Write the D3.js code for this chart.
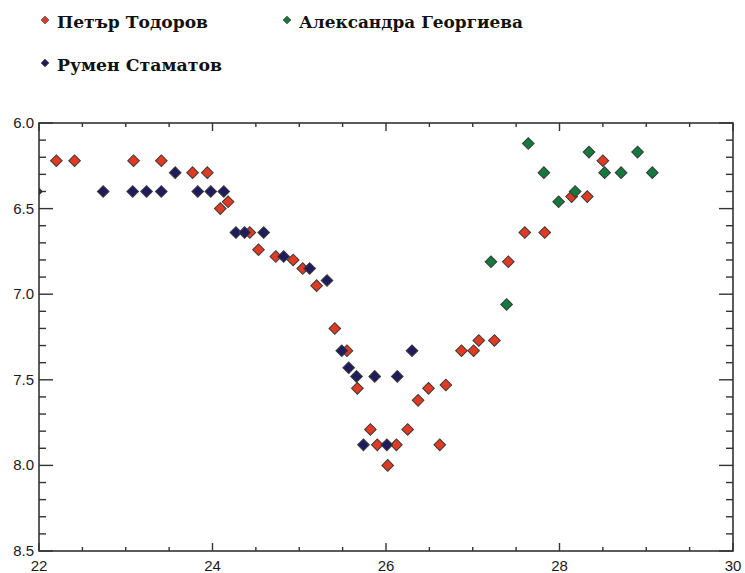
<!DOCTYPE html>
<html><head><meta charset="utf-8">
<script src="https://cdn.jsdelivr.net/npm/d3@7"></script>
<style>body{margin:0;background:#fff}</style>
</head><body>
<svg id="chart" width="745" height="573"></svg>
<script>
const seriesNames = ["Петър Тодоров", "Румен Стаматов", "Александра Георгиева"];
const seriesColors = ["#e03a22", "#1f1c5e", "#137a3e"];

const petarX = [22.20,22.41,23.09,23.41,23.77,23.94,24.09,24.18,24.43,24.53,24.73,24.93,25.04,25.20,25.41,25.55,25.67,25.82,25.90,26.02,26.12,26.25,26.37,26.49,26.62,26.69,26.87,27.01,27.07,27.25,27.41,27.60,27.83,28.14,28.32,28.50];
const petarY = [6.22,6.22,6.22,6.22,6.29,6.29,6.50,6.46,6.64,6.74,6.78,6.80,6.85,6.95,7.20,7.33,7.55,7.79,7.88,8.00,7.88,7.79,7.62,7.55,7.88,7.53,7.33,7.33,7.27,7.27,6.81,6.64,6.64,6.43,6.43,6.22];

const rumenX = [21.97,22.74,23.08,23.24,23.41,23.57,23.83,23.98,24.13,24.27,24.37,24.59,24.82,25.12,25.32,25.49,25.57,25.66,25.87,25.74,26.01,26.13,26.30];
const rumenY = [6.40,6.40,6.40,6.40,6.40,6.29,6.40,6.40,6.40,6.64,6.64,6.64,6.78,6.85,6.92,7.33,7.43,7.48,7.48,7.88,7.88,7.48,7.33];

const aleksX = [27.21,27.39,27.64,27.82,27.99,28.18,28.34,28.52,28.71,28.90,29.07];
const aleksY = [6.81,7.06,6.12,6.29,6.46,6.40,6.17,6.29,6.29,6.17,6.29];

const xTicks = [22,24,26,28,30];
const yTicks = [6.0,6.5,7.0,7.5,8.0,8.5];

const svg = d3.select("#chart");
const L = 39, T = 123, R = 733, B = 551;
const x = d3.scaleLinear().domain([22,30]).range([L,R]);
const y = d3.scaleLinear().domain([6.0,8.5]).range([T,B]);
const axisColor = "#333";

svg.append("defs").append("clipPath").attr("id","clip")
  .append("rect").attr("x",L).attr("y",T).attr("width",R-L).attr("height",B-T);

const diamond = d3.symbol().type(d3.symbolSquare).size(68);
const smallDiamond = d3.symbol().type(d3.symbolSquare).size(30);

const series = [
  {name: seriesNames[0], color: seriesColors[0], xs: petarX, ys: petarY},
  {name: seriesNames[1], color: seriesColors[1], xs: rumenX, ys: rumenY},
  {name: seriesNames[2], color: seriesColors[2], xs: aleksX, ys: aleksY}
];

const plot = svg.append("g").attr("clip-path","url(#clip)");
series.forEach(s => {
  const pts = s.xs.map((v,i) => [v, s.ys[i]]);
  plot.selectAll(null).data(pts).enter().append("path")
    .attr("d", diamond)
    .attr("transform", d => `translate(${x(d[0])},${y(d[1])}) rotate(45)`)
    .attr("fill", s.color).attr("stroke", "#3a3a3a").attr("stroke-width", 1);
});

// frame
svg.append("rect").attr("x",L).attr("y",T).attr("width",R-L).attr("height",B-T)
  .attr("fill","none").attr("stroke",axisColor).attr("stroke-width",1.6);

// ticks
const ax = svg.append("g").attr("stroke",axisColor).attr("stroke-width",1.4);
const xMinor = d3.range(22, 30.001, 0.5);
xMinor.forEach(v => {
  const major = Math.abs(v/2 - Math.round(v/2)) < 1e-6;
  const len = major ? 8 : 4;
  ax.append("line").attr("x1",x(v)).attr("x2",x(v)).attr("y1",B).attr("y2",B-len);
  ax.append("line").attr("x1",x(v)).attr("x2",x(v)).attr("y1",T).attr("y2",T+len);
});
const yMinor = d3.range(0, 26).map(i => 6 + i*0.1);
yMinor.forEach((v,i) => {
  const major = i % 5 === 0;
  const len = major ? 14 : 7;
  ax.append("line").attr("x1",L).attr("x2",L+len).attr("y1",y(v)).attr("y2",y(v));
  ax.append("line").attr("x1",R).attr("x2",R-len).attr("y1",y(v)).attr("y2",y(v));
});

// tick labels
const lab = svg.append("g").attr("font-family","Liberation Sans, Arial, sans-serif")
  .attr("font-size",15).attr("fill","#1a1a1a");
xTicks.forEach(v => {
  lab.append("text").attr("x",x(v)).attr("y",571).attr("text-anchor","middle").text(d3.format("d")(v));
});
yTicks.forEach(v => {
  lab.append("text").attr("x",L-5).attr("y",y(v)+5).attr("text-anchor","end").text(d3.format(".1f")(v));
});

// legend
const legendPos = [[45,20],[45,63],[287,20]];
const legendTextW = [151, 165, 224];
series.forEach((s,i) => {
  const [lx,ly] = legendPos[i];
  svg.append("path").attr("d", smallDiamond)
    .attr("transform", `translate(${lx},${ly}) rotate(45)`)
    .attr("fill", s.color).attr("stroke","#444").attr("stroke-width",0.8);
  svg.append("text").attr("x", lx+12).attr("y", ly+8)
    .attr("font-family","DejaVu Serif, serif").attr("font-weight","bold")
    .attr("font-size",17).attr("fill","#111")
    .attr("textLength", legendTextW[i]).attr("lengthAdjust","spacingAndGlyphs")
    .text(s.name);
});
</script>
</body></html>
